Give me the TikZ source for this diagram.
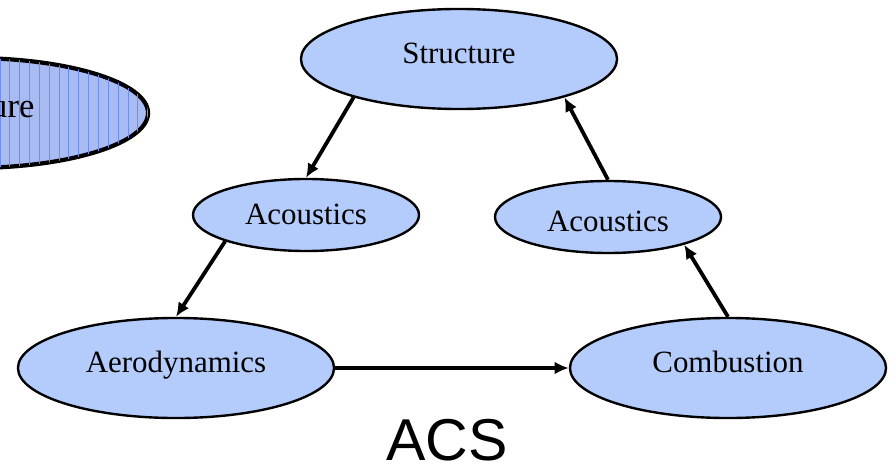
\documentclass[tikz,border=0pt]{standalone}
\usepackage{fontspec}
\setmainfont{Liberation Serif}
\newfontfamily\arialfont{Liberation Sans}
\usetikzlibrary{shapes,arrows.meta,patterns.meta}
\definecolor{lblue}{HTML}{B4CCFB}
\definecolor{pblue}{HTML}{A9BBF3}
\definecolor{dblue}{HTML}{6F8EF0}
\tikzstyle{bub}=[ellipse, draw=black, fill=lblue, line width=1.7pt, inner sep=0pt, text depth=0pt, text height=7pt, font=\fontsize{22}{26}\selectfont]
\tikzstyle{big}=[bub, minimum width=7.9cm, minimum height=2.5cm]
\tikzstyle{small}=[bub, minimum width=5.65cm, minimum height=1.8cm]
\tikzstyle{a1}=[line width=2.7pt, -{Latex[length=10pt,width=9pt]}]

\begin{document}
\begin{tikzpicture}[x=0.025cm, y=-0.025cm]
    \useasboundingbox (0,0) rectangle (892,473);
    % earlier slide, cut at the left edge
    \begin{scope}
        \clip (0,0) rectangle (892,473);
        \node[bub, fill=pblue, line width=3pt, minimum width=8.85cm, minimum height=2.75cm, text height=6pt, font=\fontsize{24.6}{29}\selectfont,
              postaction={pattern={Lines[angle=90,distance=7pt,line width=0.6pt]}, pattern color=dblue}] at (-29,113) (old) {Structure};
    \end{scope}

    \node[big] at (459,59) (struct) {Structure};
    \node[small, text height=14pt] at (306,215) (acl) {Acoustics};
    \node[small, text height=21pt] at (608,217) (acr) {Acoustics};
    \node[big] at (176,368) (aero) {Aerodynamics};
    \node[big] at (728,368) (comb) {Combustion};
    \node[font=\arialfont\fontsize{42}{48}\selectfont, anchor=base, inner sep=0pt] at (447,460) (title) {ACS};

    \draw[a1] (struct.200) -- (acl.north);
    \draw[a1] (acl.198) -- (aero.north);
    \draw[a1] (aero.east) -- (comb.west);
    \draw[a1] (comb.north) -- (acr.340);
    \draw[a1] (acr.north) -- (struct.340);
\end{tikzpicture}
\end{document}
